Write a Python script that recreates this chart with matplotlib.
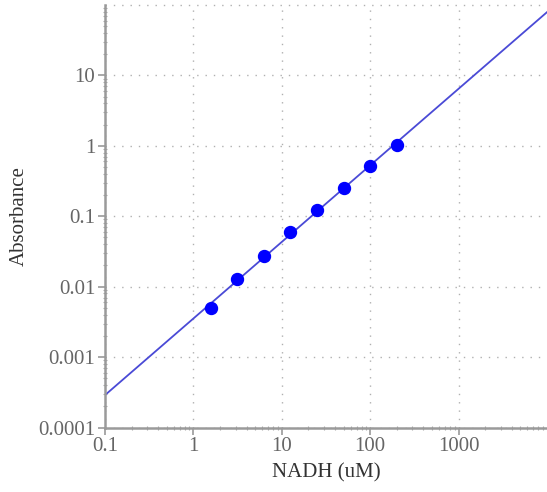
import numpy as np
import matplotlib
matplotlib.use("Agg")
import matplotlib.pyplot as plt
from matplotlib.ticker import LogLocator, FixedLocator, NullFormatter

# Data
nadh_um = [1.5625, 3.125, 6.25, 12.5, 25, 50, 100, 200]
absorbance = [0.00495, 0.01265, 0.0274, 0.0598, 0.1245, 0.255, 0.516, 1.026]
x_ticks = [0.1, 1, 10, 100, 1000]
x_tick_labels = ["0.1", "1", "10", "100", "1000"]
y_ticks = [0.0001, 0.001, 0.01, 0.1, 1, 10]
y_tick_labels = ["0.0001", "0.001", "0.01", "0.1", "1", "10"]

# Power-law trendline fitted in log-log space
slope, intercept = np.polyfit(np.log10(nadh_um), np.log10(absorbance), 1)
x_fit = np.array([0.1, 10000])
y_fit = 10 ** (intercept + slope * np.log10(x_fit))

plt.rcParams['font.family'] = ['Liberation Serif', 'DejaVu Serif']

fig = plt.figure(figsize=(5.47, 4.92), dpi=100)
ax = fig.add_axes([0.192, 0.131, 0.808, 0.859])
ax.set_xscale('log')
ax.set_yscale('log')
ax.set_xlim(0.1, 10000)
ax.set_ylim(0.0001, 100)

ax.plot(x_fit, y_fit, color='#4a4ad6', lw=1.3, zorder=2, clip_on=True)
ax.plot(nadh_um, absorbance, 'o', color='#0000ff', markersize=8.6, zorder=3)

ax.xaxis.set_major_locator(FixedLocator(x_ticks))
ax.set_xticklabels(x_tick_labels)
ax.yaxis.set_major_locator(FixedLocator(y_ticks))
ax.set_yticklabels(y_tick_labels)
ax.xaxis.set_minor_locator(LogLocator(base=10, subs=np.arange(2, 10)))
ax.yaxis.set_minor_locator(LogLocator(base=10, subs=np.arange(2, 10)))
ax.xaxis.set_minor_formatter(NullFormatter())
ax.yaxis.set_minor_formatter(NullFormatter())

ax.grid(True, which='major', color='#b0b0b0', linestyle=(0, (1, 5)), linewidth=1.0)
# top grid line at ylim
ax.axhline(100, color='#b0b0b0', linestyle=(0, (1, 5)), linewidth=1.0, clip_on=False)

for s in ['top', 'right']:
    ax.spines[s].set_visible(False)
for s in ['left', 'bottom']:
    ax.spines[s].set_color('#9a9a9a')
    ax.spines[s].set_linewidth(1.8)

ax.tick_params(which='major', direction='out', length=5, width=1.2, color='#9a9a9a',
               labelsize=15, labelcolor='#666666', pad=2)
ax.tick_params(which='minor', direction='inout', length=3, width=0.8, color='#aaaaaa')

ax.set_xlabel('NADH (uM)', fontsize=15, color='#333333', labelpad=5)
ax.set_ylabel('Absorbance', fontsize=15, color='#333333', labelpad=7)

fig.savefig('out.png', dpi=100)
